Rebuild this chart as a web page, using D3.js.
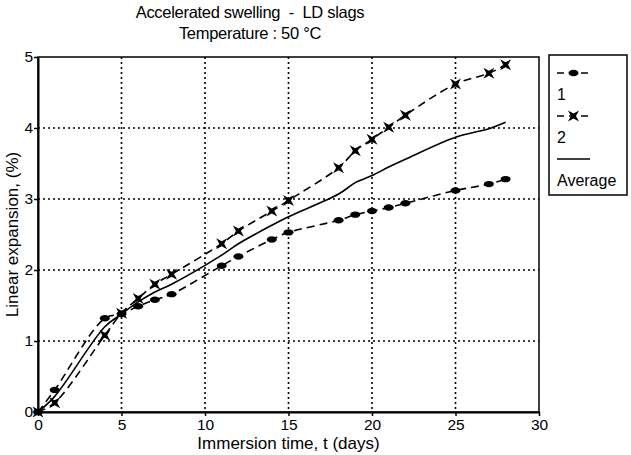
<!DOCTYPE html>
<html>
<head>
<meta charset="utf-8">
<script src="https://cdn.jsdelivr.net/npm/d3@7"></script>
<style>
  body { margin: 0; background: #fff; }
  svg { font-family: "Liberation Sans", Arial, sans-serif; }
</style>
</head>
<body>
<div id="chart"></div>
<script>
// immersion days (shared by all series)
const DAYS = [0, 1, 4, 5, 6, 7, 8, 11, 12, 14, 15, 18, 19, 20, 21, 22, 25, 27, 28];
const SERIES_1 = [0, 0.31, 1.32, 1.38, 1.49, 1.58, 1.66, 2.06, 2.19, 2.43, 2.53, 2.70, 2.78, 2.83, 2.88, 2.94, 3.12, 3.21, 3.28];
const SERIES_2 = [0, 0.13, 1.08, 1.39, 1.60, 1.80, 1.94, 2.37, 2.55, 2.83, 2.98, 3.44, 3.68, 3.84, 4.01, 4.18, 4.62, 4.77, 4.89];
const AVERAGE = [0, 0.22, 1.20, 1.38, 1.55, 1.69, 1.80, 2.21, 2.37, 2.63, 2.75, 3.07, 3.23, 3.33, 3.45, 3.56, 3.87, 3.99, 4.08];

const X_TICKS = [0, 5, 10, 15, 20, 25, 30];
const Y_TICKS = [0, 1, 2, 3, 4, 5];
const LEGEND_LABELS = ["1", "2", "Average"];

const width = 631, height = 455;
const margin = { top: 57, right: 92, bottom: 43, left: 38 };

const svg = d3.select("#chart").append("svg")
    .attr("width", width)
    .attr("height", height);

const x = d3.scaleLinear().domain([0, 30]).range([margin.left, width - margin.right]);
const y = d3.scaleLinear().domain([0, 5]).range([height - margin.bottom, margin.top]);

// titles
svg.append("text")
    .attr("x", 250).attr("y", 18)
    .attr("text-anchor", "middle")
    .attr("font-size", 16.5)
    .attr("letter-spacing", -0.3)
    .attr("xml:space", "preserve")
    .text("Accelerated swelling  -  LD slags");
svg.append("text")
    .attr("x", 250).attr("y", 39)
    .attr("text-anchor", "middle")
    .attr("font-size", 16.5)
    .attr("letter-spacing", -0.3)
    .text("Temperature : 50 °C");

// dotted grid
const grid = svg.append("g")
    .attr("stroke", "#000")
    .attr("stroke-width", 1.6)
    .attr("stroke-dasharray", "2,3");
grid.selectAll(".vgrid")
    .data(X_TICKS.filter(d => d > 0 && d < 30))
    .join("line")
    .attr("x1", d => x(d)).attr("x2", d => x(d))
    .attr("y1", y(5)).attr("y2", y(0));
grid.selectAll(".hgrid")
    .data(Y_TICKS.filter(d => d > 0 && d < 5))
    .join("line")
    .attr("x1", x(0)).attr("x2", x(30))
    .attr("y1", d => y(d)).attr("y2", d => y(d));

// frame
svg.append("rect")
    .attr("x", x(0)).attr("y", y(5))
    .attr("width", x(30) - x(0)).attr("height", y(0) - y(5))
    .attr("fill", "none")
    .attr("stroke", "#000")
    .attr("stroke-width", 1.5);

// axes
const xAxis = svg.append("g")
    .attr("transform", `translate(0,${y(0)})`)
    .call(d3.axisBottom(x).tickValues(X_TICKS).tickFormat(d3.format("d"))
        .tickSize(4).tickSizeOuter(0).tickPadding(3));
const yAxis = svg.append("g")
    .attr("transform", `translate(${x(0)},0)`)
    .call(d3.axisLeft(y).tickValues(Y_TICKS).tickFormat(d3.format("d"))
        .tickSize(4).tickSizeOuter(0).tickPadding(1));
[xAxis, yAxis].forEach(a => {
    a.select(".domain").attr("stroke-width", 2);
    a.selectAll(".tick line").attr("stroke-width", 1.5);
    a.selectAll("text")
        .attr("font-size", 15.5)
        .attr("font-family", "Liberation Sans, Arial, sans-serif")
        .attr("fill", "#000");
});

svg.append("text")
    .attr("x", x(15)).attr("y", 449)
    .attr("text-anchor", "middle")
    .attr("font-size", 17)
    .text("Immersion time, t (days)");
svg.append("text")
    .attr("transform", `translate(18,${y(2.5)}) rotate(-90)`)
    .attr("text-anchor", "middle")
    .attr("font-size", 17)
    .text("Linear expansion, (%)");

// series
const pts = vals => DAYS.map((d, i) => [d, vals[i]]);
const line = d3.line()
    .x(d => x(d[0])).y(d => y(d[1]))
    .curve(d3.curveCatmullRom.alpha(0.5));

const crossPath = s => {
    const r = s * 0.45;
    return `M${-s},${-s}L0,${-r}L${s},${-s}L${r},0L${s},${s}L0,${r}L${-s},${s}L${-r},0Z`;
};

const drawSeries = (vals, dashed, marker) => {
    svg.append("path")
        .datum(pts(vals))
        .attr("d", line)
        .attr("fill", "none")
        .attr("stroke", "#000")
        .attr("stroke-width", 1.6)
        .attr("stroke-dasharray", dashed ? "8,5" : null);
    if (marker === "dot") {
        svg.selectAll(null)
            .data(pts(vals))
            .join("ellipse")
            .attr("cx", d => x(d[0])).attr("cy", d => y(d[1]))
            .attr("rx", 5).attr("ry", 3.2)
            .attr("fill", "#000");
    } else if (marker === "cross") {
        svg.selectAll(null)
            .data(pts(vals))
            .join("path")
            .attr("transform", d => `translate(${x(d[0])},${y(d[1])})`)
            .attr("d", crossPath(5.5))
            .attr("fill", "#000");
    }
};

drawSeries(SERIES_1, true, "dot");
drawSeries(SERIES_2, true, "cross");
drawSeries(AVERAGE, false, null);

// legend
const lg = svg.append("g");
lg.append("rect")
    .attr("x", 549).attr("y", 55)
    .attr("width", 78).attr("height", 140)
    .attr("fill", "#fff")
    .attr("stroke", "#000")
    .attr("stroke-width", 1.5);
const legendItems = [
    { label: LEGEND_LABELS[0], dashed: true, marker: "dot" },
    { label: LEGEND_LABELS[1], dashed: true, marker: "cross" },
    { label: LEGEND_LABELS[2], dashed: false, marker: null }
];
legendItems.forEach((item, i) => {
    const yy = 73 + i * 43;
    lg.append("line")
        .attr("x1", 557).attr("x2", 590)
        .attr("y1", yy).attr("y2", yy)
        .attr("stroke", "#000")
        .attr("stroke-width", 1.6)
        .attr("stroke-dasharray", item.dashed ? "7,5" : null);
    if (item.marker === "dot") {
        lg.append("ellipse").attr("cx", 573.5).attr("cy", yy).attr("rx", 5).attr("ry", 3.2).attr("fill", "#000");
    } else if (item.marker === "cross") {
        lg.append("path").attr("transform", `translate(573.5,${yy})`).attr("d", crossPath(5.5)).attr("fill", "#000");
    }
    lg.append("text")
        .attr("x", 557).attr("y", yy + 27)
        .attr("font-size", 16)
        .text(item.label);
});
</script>
</body>
</html>
